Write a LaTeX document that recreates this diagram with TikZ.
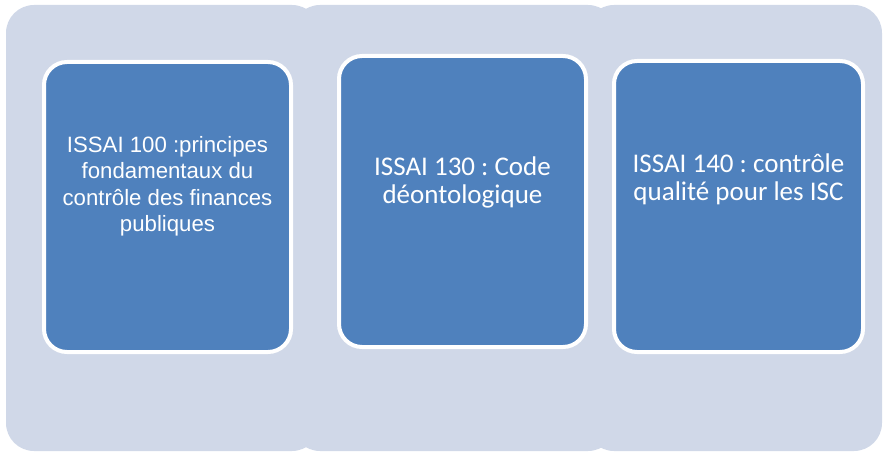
\documentclass[tikz,border=0pt]{standalone}
\usepackage{fontspec}
\newfontfamily\calibrifont{Carlito}
\newfontfamily\arialfont{Liberation Sans}
\frenchspacing
\definecolor{panelfill}{RGB}{208,216,232}
\definecolor{cardfill}{RGB}{79,129,189}
\tikzset{
  panel/.style={fill=panelfill, draw=none, rounded corners=28pt},
  card/.style={fill=cardfill, draw=white, line width=4pt, rounded corners=23pt},
  cardtext/.style={text=white, inner sep=0pt, align=center, anchor=north},
  arialtext/.style={cardtext, font=\arialfont\fontsize{22.2pt}{26.5pt}\selectfont},
  calibritext/.style={cardtext, font=\calibrifont\fontsize{27pt}{28pt}\selectfont}
}
\begin{document}
\begin{tikzpicture}[x=1pt, y=-1pt]
  \useasboundingbox (0,0) rectangle (884,452);
  % background panels
  \path[panel] (6,5) rectangle (320,451);
  \path[panel] (292,5) rectangle (616,451);
  \path[panel] (586,5) rectangle (882,451);
  % cards
  \path[card] (44,62) rectangle (291,352);
  \path[card] (339,56) rectangle (586,347);
  \path[card] (614,61) rectangle (863,352);
  % labels
  \node[arialtext] (t1) at (167.5,135.8)
    {ISSAI 100 :principes\\fondamentaux du\\contrôle des finances\\publiques};
  \node[calibritext] (t2) at (462.5,156.4)
    {ISSAI 130 : Code\\déontologique};
  \node[calibritext] (t3) at (738.5,153.5)
    {ISSAI 140 : contrôle\\qualité pour les ISC};
\end{tikzpicture}
\end{document}
